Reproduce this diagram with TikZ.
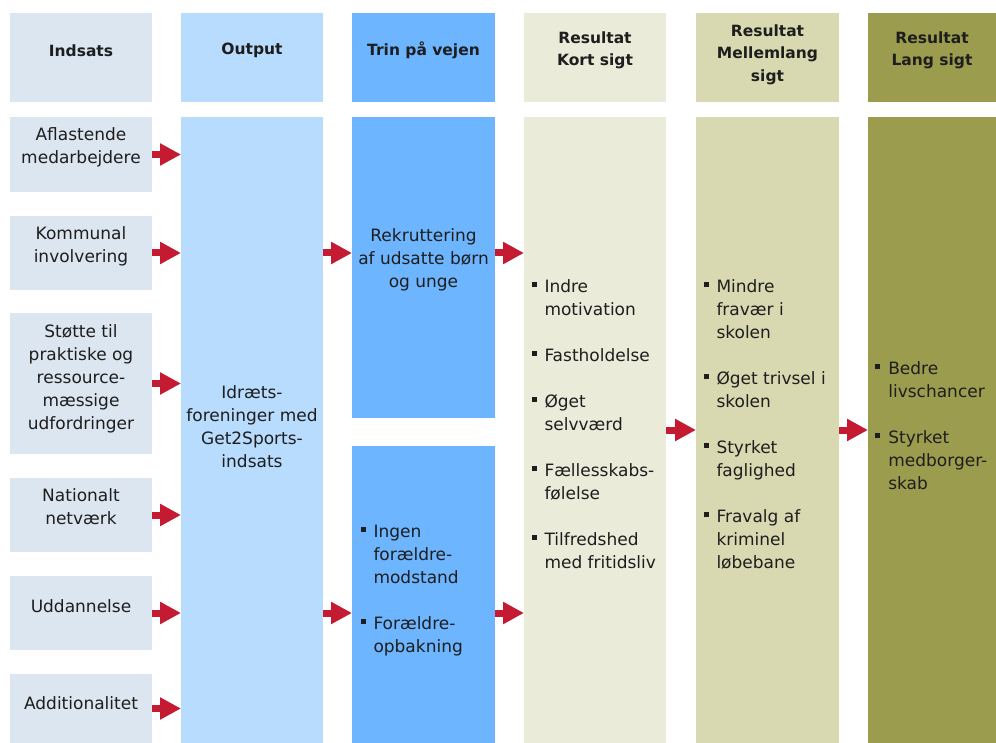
\documentclass[tikz,border=0pt]{standalone}
\usepackage{fontspec}
\setmainfont{DejaVu Sans}
\usetikzlibrary{arrows.meta}
\definecolor{indc}{HTML}{DCE6F0}
\definecolor{outc}{HTML}{B8DCFE}
\definecolor{trinc}{HTML}{6DB5FE}
\definecolor{kortc}{HTML}{EBEBDA}
\definecolor{melc}{HTML}{D8D9B1}
\definecolor{langc}{HTML}{9C9C4E}
\definecolor{arrc}{HTML}{C41A32}
\definecolor{txtc}{HTML}{1E1E1E}
\newcommand\mkbox[6]{%
  \pgfmathsetmacro\mkbw{#5-#3}\pgfmathsetmacro\mkbh{#6-#4}%
  \node[fill=#2, draw=none, minimum width=\mkbw pt, minimum height=\mkbh pt, inner sep=0pt, outer sep=0pt] (#1) at ({(#3+#5)/2},{(#4+#6)/2}) {};}
\newcommand\bul{\llap{\rule[5pt]{5pt}{5pt}\hspace{8pt}}}
\begin{document}
\begin{tikzpicture}[x=1pt,y=-1pt,
  every node/.style={inner sep=0pt, outer sep=0pt},
  txt/.style={font=\fontsize{17}{23}\selectfont, text=txtc, align=center},
  head/.style={font=\bfseries\fontsize{15.5}{22.5}\selectfont, text=txtc, align=center},
  btxt/.style={font=\fontsize{17}{23}\selectfont, text=txtc, align=left, anchor=north west},
  conn/.style={draw=arrc, line width=7pt, -{Triangle[length=21pt,width=21pt]}},
]
\useasboundingbox (0,0) rectangle (996,743);
% header row
\mkbox{h1}{indc}{10}{13}{152}{102}
\mkbox{h2}{outc}{181}{13}{323}{102}
\mkbox{h3}{trinc}{352}{13}{495}{102}
\mkbox{h4}{kortc}{524}{13}{666}{102}
\mkbox{h5}{melc}{696}{13}{839}{102}
\mkbox{h6}{langc}{868}{13}{996}{102}
% body
\mkbox{a1}{indc}{10}{117}{152}{192}
\mkbox{a2}{indc}{10}{216}{152}{290}
\mkbox{a3}{indc}{10}{313}{152}{454}
\mkbox{a4}{indc}{10}{478}{152}{552}
\mkbox{a5}{indc}{10}{576}{152}{650}
\mkbox{a6}{indc}{10}{674}{152}{743}
\mkbox{out}{outc}{181}{117}{323}{743}
\mkbox{trin1}{trinc}{352}{117}{495}{418}
\mkbox{trin2}{trinc}{352}{446}{495}{743}
\mkbox{kort}{kortc}{524}{117}{666}{743}
\mkbox{mel}{melc}{696}{117}{839}{743}
\mkbox{lang}{langc}{868}{117}{996}{743}
% header texts
\node[head] (t1) at ([yshift=7pt]h1.center) {Indsats};
\node[head] (t2) at ([yshift=7pt]h2.center) {Output};
\node[head] (t3) at ([yshift=7pt]h3.center) {Trin på vejen};
\node[head] (t4) at ([yshift=7pt]h4.center) {Resultat\\Kort sigt};
\node[head] (t5) at ([yshift=3pt]h5.center) {Resultat\\Mellemlang\\sigt};
\node[head] (t6) at ([yshift=7pt]h6.center) {Resultat\\Lang sigt};
% left texts
\node[txt] (x1) at ([yshift=7pt]a1.center) {Aflastende\\medarbejdere};
\node[txt] (x2) at ([yshift=7pt]a2.center) {Kommunal\\involvering};
\node[txt] (x3) at ([yshift=5pt]a3.center) {Støtte til\\praktiske og\\ressource-\\mæssige\\udfordringer};
\node[txt] (x4) at ([yshift=8pt]a4.center) {Nationalt\\netværk};
\node[txt] (x5) at ([yshift=7pt]a5.center) {Uddannelse};
\node[txt] (x6) at ([yshift=5pt]a6.center) {Additionalitet};
% column texts
\node[txt] (xo) at ([yshift=3.5pt]out.center) {Idræts-\\foreninger med\\Get2Sports-\\indsats};
\node[txt] (xt1) at ([yshift=7.5pt]trin1.center) {Rekruttering\\af udsatte børn\\og unge};
\node[btxt] (xt2) at (373.5,525) {\bul Ingen\\forældre-\\modstand\\[23pt]\bul Forældre-\\opbakning};
\node[btxt] (xk) at (544.5,279.5) {\bul Indre\\motivation\\[23pt]\bul Fastholdelse\\[23pt]\bul Øget\\selvværd\\[23pt]\bul Fællesskabs-\\følelse\\[23pt]\bul Tilfredshed\\med fritidsliv};
\node[btxt] (xm) at (716.5,279.5) {\bul Mindre\\fravær i\\skolen\\[23pt]\bul Øget trivsel i\\skolen\\[23pt]\bul Styrket\\faglighed\\[23pt]\bul Fravalg af\\kriminel\\løbebane};
\node[btxt] (xl) at (888.3,361.5) {\bul Bedre\\livschancer\\[23pt]\bul Styrket\\medborger-\\skab};
% connectors
\foreach \n in {a1,a2,a3,a4,a5,a6}
  \draw[conn] (\n.east) -- (\n.east -| out.west);
\draw[conn] (a2.east -| out.east) -- (a2.east -| trin1.west);
\draw[conn] (a5.east -| out.east) -- (a5.east -| trin2.west);
\draw[conn] (a2.east -| trin1.east) -- (a2.east -| kort.west);
\draw[conn] (a5.east -| trin2.east) -- (a5.east -| kort.west);
\draw[conn] (kort.east) -- (mel.west);
\draw[conn] (mel.east) -- (lang.west);
\end{tikzpicture}
\end{document}
